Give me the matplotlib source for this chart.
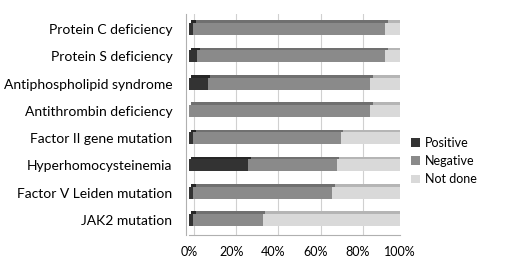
import numpy as np
import matplotlib.pyplot as plt
import matplotlib.transforms as mtransforms

categories = ["Protein C deficiency", "Protein S deficiency", "Antiphospholipid syndrome",
              "Antithrombin deficiency", "Factor II gene mutation", "Hyperhomocysteinemia",
              "Factor V Leiden mutation", "JAK2 mutation"]
positive = [2, 4, 9, 0, 2, 28, 2, 2]
negative = [91, 89, 77, 86, 70, 42, 66, 33]
not_done = [7, 7, 14, 14, 28, 30, 32, 65]
series = ["Positive", "Negative", "Not done"]

colors = ["#333333", "#8a8a8a", "#d9d9d9"]
side_colors = ["#262626", "#707070", "#b5b5b5"]

plt.rcParams['font.family'] = ['Lato', 'DejaVu Sans']

fig = plt.figure(figsize=(5.06, 2.64), dpi=100)
ax = fig.add_axes([0.3735, 0.11, 0.417, 0.837])

y = np.arange(len(categories))
h = 0.44
depth = mtransforms.ScaledTranslation(2.5 / 100, 2.5 / 100, fig.dpi_scale_trans)
grid_shift = mtransforms.ScaledTranslation(5 / 100, 0, fig.dpi_scale_trans)

# gridlines on the back wall
for gx in range(0, 101, 20):
    ln = ax.axvline(gx, color="#d0d0d0", lw=0.8, zorder=0)
    ln.set_transform(ax.get_xaxis_transform() + grid_shift)

left = np.zeros(len(categories))
data = [positive, negative, not_done]
for vals, c, sc, name in zip(data, colors, side_colors, series):
    # depth face of the 3d bars
    back = ax.barh(y, vals, left=left, height=h, color=sc, zorder=2)
    for p in back:
        p.set_transform(ax.transData + depth)
    ax.barh(y, vals, left=left, height=h, color=c, label=name, zorder=3)
    left = left + np.array(vals)

ax.set_xlim(0, 100)
ax.set_ylim(len(categories) - 0.45, -0.55)
ax.set_yticks(y)
ax.set_yticklabels(categories, fontsize=9)
ax.set_xticks(range(0, 101, 20))
ax.set_xticklabels([f"{v}%" for v in range(0, 101, 20)], fontsize=9)
ax.tick_params(axis="y", length=0, pad=10)
ax.tick_params(axis="x", length=0, pad=8)
for s in ["top", "right"]:
    ax.spines[s].set_visible(False)
ax.spines["left"].set_color("#b0b0b0")
ax.spines["bottom"].set_color("#b0b0b0")
ax.spines["left"].set_position(("outward", 2))

leg = fig.legend(loc="center left", bbox_to_anchor=(0.79, 0.39), frameon=False,
                 fontsize=9, handlelength=0.7, handleheight=0.7, handletextpad=0.4,
                 labelspacing=0.5)

plt.savefig("out.png", dpi=100)
plt.close()
